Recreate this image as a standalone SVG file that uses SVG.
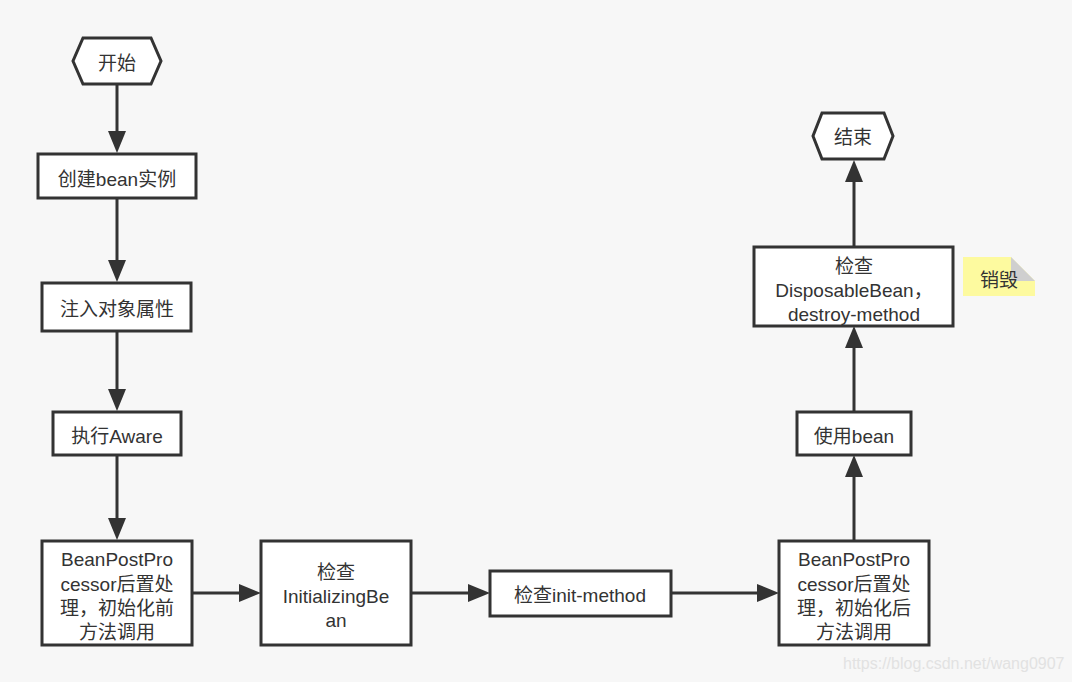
<svg xmlns="http://www.w3.org/2000/svg" width="1072" height="682" viewBox="0 0 1072 682">
<defs>
<style>
.box{fill:#fff;stroke:#333;stroke-width:3}
.t{font-family:"Liberation Sans","Noto Sans CJK SC",sans-serif;font-size:19px;fill:#333;text-anchor:middle}
.c{stroke:#333;stroke-width:3;fill:none}
.h{fill:#333}
</style>
</defs>
<rect width="1072" height="682" fill="#f7f7f7"/>
<g id="connectors">
<path class="c" d="M117,85 V138"/>
<path class="h" d="M108,131 L117,153 L126,131 Z"/>
<path class="c" d="M117,198 V268"/>
<path class="h" d="M108,260 L117,282 L126,260 Z"/>
<path class="c" d="M117,331 V397"/>
<path class="h" d="M108,389 L117,411 L126,389 Z"/>
<path class="c" d="M117,455 V526"/>
<path class="h" d="M108,518 L117,540 L126,518 Z"/>
<path class="c" d="M192,593 H247"/>
<path class="h" d="M239,584 L261,593 L239,602 Z"/>
<path class="c" d="M411,593 H476"/>
<path class="h" d="M468,584 L490,593 L468,602 Z"/>
<path class="c" d="M671,593 H765"/>
<path class="h" d="M757,584 L779,593 L757,602 Z"/>
<path class="c" d="M854,540 V469"/>
<path class="h" d="M845,477 L854,455 L863,477 Z"/>
<path class="c" d="M854,411 V340"/>
<path class="h" d="M845,348 L854,326 L863,348 Z"/>
<path class="c" d="M854,246 V174"/>
<path class="h" d="M845,182 L854,160 L863,182 Z"/>
</g>
<g id="start">
<path class="box" d="M83,38 H151 L161,61 L151,84 H83 L73,61 Z"/>
<text class="t" x="117" y="70">开始</text>
</g>
<g id="create">
<rect class="box" x="38" y="154" width="158" height="44"/>
<text class="t" x="117" y="186">创建bean实例</text>
</g>
<g id="inject">
<rect class="box" x="42" y="283" width="149" height="48"/>
<text class="t" x="117" y="316">注入对象属性</text>
</g>
<g id="aware">
<rect class="box" x="53" y="412" width="128" height="43"/>
<text class="t" x="117" y="443">执行Aware</text>
</g>
<g id="bpp-before">
<rect class="box" x="42" y="541" width="150" height="104"/>
<text class="t" x="117" y="566">BeanPostPro</text>
<text class="t" x="117" y="591">cessor后置处</text>
<text class="t" x="117" y="615">理，初始化前</text>
<text class="t" x="117" y="639">方法调用</text>
</g>
<g id="initializing">
<rect class="box" x="261" y="541" width="150" height="104"/>
<text class="t" x="336" y="579">检查</text>
<text class="t" x="336" y="603">InitializingBe</text>
<text class="t" x="336" y="627">an</text>
</g>
<g id="init-method">
<rect class="box" x="490" y="571" width="181" height="45"/>
<text class="t" x="580" y="602">检查init-method</text>
</g>
<g id="bpp-after">
<rect class="box" x="779" y="541" width="150" height="104"/>
<text class="t" x="854" y="566">BeanPostPro</text>
<text class="t" x="854" y="591">cessor后置处</text>
<text class="t" x="854" y="615">理，初始化后</text>
<text class="t" x="854" y="639">方法调用</text>
</g>
<g id="use">
<rect class="box" x="797" y="412" width="114" height="43"/>
<text class="t" x="854" y="443">使用bean</text>
</g>
<g id="disposable">
<rect class="box" x="754" y="247" width="199" height="79"/>
<text class="t" x="854" y="273">检查</text>
<text class="t" x="854" y="297">DisposableBean，</text>
<text class="t" x="854" y="321">destroy-method</text>
</g>
<g id="end">
<path class="box" d="M822,113 H884 L893,136 L884,159 H822 L813,136 Z"/>
<text class="t" x="853" y="144">结束</text>
</g>
<g id="note">
<path d="M963,257 H1011 L1035,281 V296 H963 Z" fill="#fdfa9f"/>
<path d="M1011,257 L1035,281 H1011 Z" fill="#cfcfcf"/>
<text class="t" x="999" y="287">销毁</text>
</g>
<text x="843" y="669" style="font-family:'Liberation Sans',sans-serif;font-size:16px;fill:#e2e2e2">https://blog.csdn.net/wang0907</text>
</svg>
